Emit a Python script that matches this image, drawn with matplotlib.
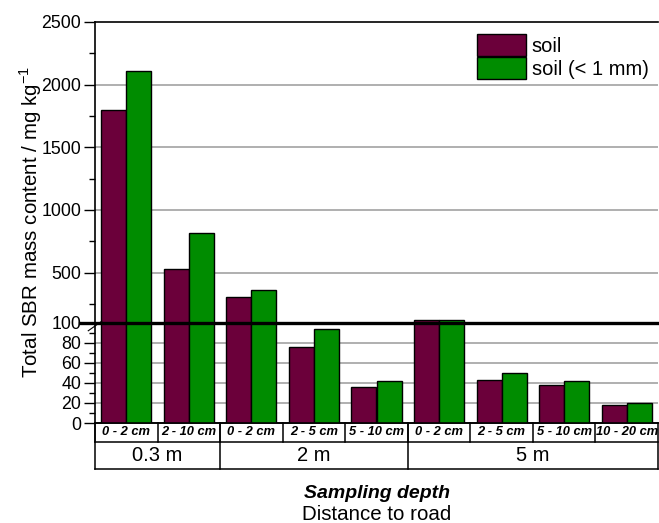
import numpy as np
import matplotlib.pyplot as plt

plt.rcParams['font.family'] = ['Liberation Sans', 'DejaVu Sans']

# data
distances = ['0.3 m', '2 m', '5 m']
n_depths = [2, 3, 4]
depths = ['0 - 2 cm', '2 - 10 cm',
          '0 - 2 cm', '2 - 5 cm', '5 - 10 cm',
          '0 - 2 cm', '2 - 5 cm', '5 - 10 cm', '10 - 20 cm']
soil = [1795, 527, 303, 76, 36, 120, 43, 38, 18]
soil_fine = [2112, 813, 359, 94, 42, 125, 50, 42, 20]

BREAK = 100
FACTOR = 8.0  # compression of the upper part


def fwd(y):
    y = np.asarray(y, dtype=float)
    return np.where(y <= BREAK, y, BREAK + (y - BREAK) / FACTOR)


def inv(t):
    t = np.asarray(t, dtype=float)
    return np.where(t <= BREAK, t, BREAK + (t - BREAK) * FACTOR)


W, H = 659, 523
fig = plt.figure(figsize=(W / 100, H / 100), dpi=100)

x0, x1 = 95, 658
ytop, ybot = 22, 423
ax = fig.add_axes([x0 / W, (H - ybot) / H, (x1 - x0) / W, (ybot - ytop) / H])
ax.set_yscale('function', functions=(fwd, inv))

x = np.arange(len(depths))
bw = 0.4
ax.bar(x - bw / 2, soil, bw, color='#6b003a', edgecolor='black', lw=1, label='soil', zorder=3)
ax.bar(x + bw / 2, soil_fine, bw, color='#008c00', edgecolor='black', lw=1,
       label='soil (< 1 mm)', zorder=3)

ax.set_xlim(-0.5, len(depths) - 0.5)
ax.set_ylim(0, 2500)

major = [0, 20, 40, 60, 80, 100, 500, 1000, 1500, 2000, 2500]
minor = [10, 30, 50, 70, 90, 250, 750, 1250, 1750, 2250]
ax.set_yticks(major)
ax.set_yticklabels([str(v) for v in major], fontsize=12.8)
ax.set_yticks(minor, minor=True)
ax.tick_params(axis='y', which='major', length=8, width=1, direction='out', pad=2)
ax.tick_params(axis='y', which='minor', length=4, width=1, direction='out')
ax.set_xticks([])

for v in [20, 40, 60, 80, 500, 1000, 1500, 2000]:
    ax.axhline(v, color='#9a9a9a', lw=1.1, zorder=1)

# thick break line at 100
ax.plot([-0.027, 1], [BREAK, BREAK], color='black', lw=2.4,
        transform=ax.get_yaxis_transform(), clip_on=False, zorder=4)
ax.plot([-0.012, 0.012], [92, 112], color='black', lw=0.8,
        transform=ax.get_yaxis_transform(), clip_on=False, zorder=5)

ax.spines['right'].set_visible(False)
for s in ['left', 'top', 'bottom']:
    ax.spines[s].set_linewidth(1.2)

ax.set_ylabel('Total SBR mass content / mg kg$^{\\mathregular{-1}}$', fontsize=14.8, labelpad=-2)

ax.legend(loc='upper right', bbox_to_anchor=(1.005, 1.0), fontsize=14.5, frameon=False,
          handlelength=2.4, handleheight=1.3, handletextpad=0.3, labelspacing=0.05,
          borderaxespad=0.2)

# category table under the plot
tb = fig.add_axes([x0 / W, (H - 469) / H, (x1 - x0) / W, (469 - 423) / H])
tb.set_xlim(-0.5, len(depths) - 0.5)
tb.set_ylim(0, 46)
tb.axis('off')
lk = dict(color='black', lw=1.1, clip_on=False)
tb.plot([-0.5, len(depths) - 0.5], [46, 46], **lk)
tb.plot([-0.5, len(depths) - 0.5], [27.5, 27.5], **lk)
tb.plot([-0.5, len(depths) - 0.5], [0, 0], **lk)
for i, d in enumerate(depths):
    tb.text(i, 36.8, d, ha='center', va='center', fontsize=9.3,
            fontweight='bold', fontstyle='italic')
    tb.plot([i - 0.5, i - 0.5], [27.5, 46], **lk)
tb.plot([len(depths) - 0.5] * 2, [0, 46], **lk)
start = 0
for name, n in zip(distances, n_depths):
    tb.plot([start - 0.5, start - 0.5], [0, 46], **lk)
    tb.text(start + (n - 1) / 2, 13.5, name, ha='center', va='center', fontsize=14.5)
    start += n

cx = (x0 + x1) / 2 / W
fig.text(cx, 1 - 493 / H, 'Sampling depth', ha='center', va='center', fontsize=14,
         fontweight='bold', fontstyle='italic')
fig.text(cx, 1 - 515 / H, 'Distance to road', ha='center', va='center', fontsize=14.8)

fig.savefig('out.png', dpi=100)
